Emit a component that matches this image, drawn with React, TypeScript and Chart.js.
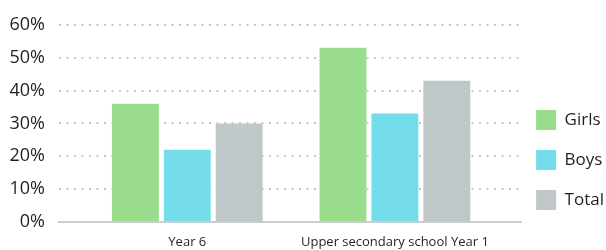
import React, { useEffect, useRef } from "react";
import { Chart, registerables } from "chart.js";

Chart.register(...registerables);

const categories = ["Year 6", "Upper secondary school Year 1"];
const seriesNames = ["Girls", "Boys", "Total"];
const girls = [36, 53];
const boys = [22, 33];
const total = [30, 43];
const yTickValues = [0, 10, 20, 30, 40, 50, 60];
const colors = ["#98dc8c", "#75dde9", "#c0c7c9"];

export default function App() {
  const ref = useRef<HTMLCanvasElement | null>(null);

  useEffect(() => {
    document.body.style.margin = "0";
    const canvas = ref.current;
    if (!canvas) return;
    const seriesValues = [girls, boys, total];
    const shiftLegend = {
      id: "shiftLegend",
      afterLayout(chart: any) {
        if (chart.legend) {
          chart.legend.left -= 5;
          chart.legend.right -= 5;
        }
      },
    };
    const chart = new Chart(canvas, {
      type: "bar",
      data: {
        datasets: seriesNames.map((name, s) => ({
          label: name,
          data: seriesValues[s].map((v, i) => ({ x: i, y: v })),
          backgroundColor: colors[s],
          borderWidth: 0,
          categoryPercentage: 0.75,
          barPercentage: 0.904,
        })),
      },
      options: {
        animation: false,
        responsive: false,
        layout: { padding: { top: 20, right: -13, bottom: 0, left: 0 } },
        font: { family: "'Open Sans', sans-serif" },
        plugins: {
          tooltip: { enabled: false },
          legend: {
            position: "right",
            align: "start",
            title: { display: true, text: "", font: { size: 10 }, padding: { top: 0, bottom: 58 } },
            labels: {
              boxWidth: 20,
              boxHeight: 20,
              padding: 20,
              color: "#231f20",
              font: { size: 17, family: "'Open Sans', sans-serif" },
            },
          },
        },
        scales: {
          x: {
            type: "linear",
            offset: false,
            bounds: "data",
            min: -0.618,
            max: 1.608,
            afterBuildTicks: (scale: any) => {
              scale.ticks = categories.map((_, i) => ({ value: i }));
            },
            afterFit: (scale: any) => {
              scale.height = 28;
            },
            ticks: {
              autoSkip: false,
              maxRotation: 0,
              padding: 12,
              color: "#231f20",
              font: { size: 13, family: "'Open Sans', sans-serif" },
              callback: (v: any) => categories[Number(v)] ?? "",
            },
            grid: { display: false, drawTicks: false },
            border: { display: true, color: "#c8cdd0", width: 2 },
          },
          y: {
            min: 0,
            max: 60,
            afterBuildTicks: (scale: any) => {
              scale.ticks = yTickValues.map((v) => ({ value: v }));
            },
            afterFit: (scale: any) => {
              scale.width = 59;
            },
            ticks: {
              padding: 14,
              color: "#231f20",
              font: { size: 18, family: "'Open Sans', sans-serif" },
              callback: (v: any) => v + "%",
            },
            grid: { color: "#c4c8cc", lineWidth: 2, drawTicks: false },
            border: { display: false, dash: [2, 5.5] },
          },
        },
      },
      plugins: [shiftLegend],
    });
    return () => chart.destroy();
  }, []);

  return (
    <div style={{ width: 606, height: 250 }}>
      <canvas ref={ref} width={606} height={250} />
    </div>
  );
}
